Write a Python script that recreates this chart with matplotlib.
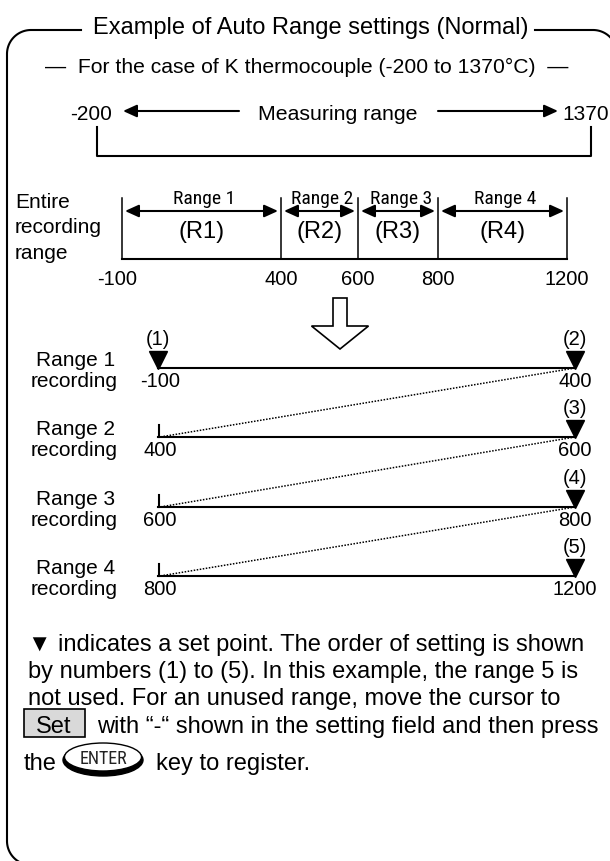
import numpy as np
import matplotlib.pyplot as plt
from matplotlib.patches import Ellipse, Rectangle, FancyArrow

# values shown in the diagram
meas_min, meas_max = -200, 1370
bounds = [-100, 400, 600, 800, 1200]
range_names = ["Range 1", "Range 2", "Range 3", "Range 4"]
range_codes = ["(R1)", "(R2)", "(R3)", "(R4)"]
order_marks = ["(1)", "(2)", "(3)", "(4)", "(5)"]

# layout (pixel positions of the schematic)
bar_x = [122, 281, 358, 438, 567]
row_y = [369, 438, 508, 577]
x0, x1 = 158, 575

plt.rcParams['font.family'] = ['Liberation Sans', 'DejaVu Sans']
fig = plt.figure(figsize=(6.10, 8.62), dpi=100)
ax = fig.add_axes([0, 0, 1, 1])
ax.set_xlim(0, 610)
ax.set_ylim(862, 0)
ax.axis('off')

lw = 1.5
narrow = ['Liberation Sans Narrow', 'Roboto Condensed', 'Liberation Sans']
fs = 15

# outer rounded frame; right and bottom edges lie outside the picture
r = 24
t = np.linspace(0, np.pi / 2, 40)
tl_x = 7 + r - r * np.sin(t)
tl_y = 31 + r - r * np.cos(t)
bl_x = 7 + r - r * np.cos(t)
bl_y = 866 - r + r * np.sin(t)
ax.plot(np.concatenate([[81], tl_x, bl_x]), np.concatenate([[31], tl_y, bl_y]),
        color='black', lw=lw)
tr_x = 593 + r * np.sin(t)
tr_y = 31 + r - r * np.cos(t)
ax.plot(np.concatenate([[535], tr_x]), np.concatenate([[31], tr_y]), color='black', lw=lw)

ax.text(311, 34, "Example of Auto Range settings (Normal)", fontsize=17,
        ha='center', va='baseline')
ax.text(307, 73, "\u2014  For the case of K thermocouple (%d to %d\u00b0C)  \u2014" % (meas_min, meas_max),
        fontsize=15.2, ha='center', va='baseline')

# measuring range
ax.text(70, 120, str(meas_min), fontsize=fs, ha='left', va='baseline')
ax.text(609, 120, str(meas_max), fontsize=fs, ha='right', va='baseline')
ax.text(338, 120, "Measuring range", fontsize=15.3, ha='center', va='baseline')
arr = dict(arrowstyle='-|>,head_length=0.55,head_width=0.25', lw=lw, color='black',
           mutation_scale=15, shrinkA=0, shrinkB=0)
ax.annotate("", xy=(123, 112), xytext=(239, 112), arrowprops=arr)
ax.annotate("", xy=(558, 112), xytext=(438, 112), arrowprops=arr)
ax.plot([97, 97, 591, 591], [128, 157, 157, 128], color='black', lw=lw)

# entire recording range bar
for txt, yb in zip(["Entire", "recording", "range"], [208, 233.5, 259]):
    ax.text(15, yb, txt, fontsize=fs, ha='left', va='baseline')
for x in bar_x:
    ax.plot([x, x], [199, 260], color='black', lw=1.1)
ax.plot([bar_x[0], bar_x[-1]], [260, 260], color='black', lw=lw)
darr = dict(arrowstyle='<|-|>,head_length=0.55,head_width=0.25', lw=lw, color='black',
            mutation_scale=15, shrinkA=0, shrinkB=0)
for i in range(4):
    xa, xb = bar_x[i], bar_x[i + 1]
    ax.annotate("", xy=(xa + 3, 212), xytext=(xb - 3, 212), arrowprops=darr)
    ax.text((xa + xb) / 2 + 3, 199, range_names[i], fontsize=14, family=narrow,
            ha='center', va='center')
    ax.text((xa + xb) / 2, 232, range_codes[i], fontsize=17, ha='center', va='center')
for x, v in zip(bar_x, bounds):
    ax.text(x - (5 if v < 0 else 0), 285, str(v), fontsize=14.5, ha='center', va='baseline')

# hollow down arrow
ax.add_patch(FancyArrow(340, 299, 0, 51, width=14, head_width=57, head_length=23,
                        length_includes_head=True, fc='white', ec='black', lw=1.2))

# per-range recording rows
for i, y in enumerate(row_y):
    ax.text(76, y - 3, range_names[i], fontsize=fs, ha='center', va='baseline')
    ax.text(74, y + 18, "recording", fontsize=fs, ha='center', va='baseline')
    ax.plot([x0, x1], [y, y], color='black', lw=lw)
    ax.text(x0 + 2, y + 18, str(bounds[i]), fontsize=14.5, ha='center', va='baseline')
    ax.text(x1, y + 18, str(bounds[i + 1]), fontsize=14.5, ha='center', va='baseline')
    ax.plot([x1], [y - 8.5], marker='v', ms=12.5, color='black')
    ax.text(x1, y - 29, order_marks[i + 1], fontsize=14.5, ha='center', va='center')
    if i == 0:
        ax.plot([x0], [y - 8.5], marker='v', ms=12.5, color='black')
        ax.text(x0, y - 29, order_marks[0], fontsize=14.5, ha='center', va='center')
    else:
        ax.plot([x0 + 1, x0 + 1], [y - 12, y], color='black', lw=lw)
        ax.plot([x1, x0 + 2], [row_y[i - 1], y], color='black', lw=1.1, ls=(0, (1, 1)))

# explanatory text
para = ["\u25bc indicates a set point. The order of setting is shown",
        "by numbers (1) to (5). In this example, the range 5 is",
        "not used. For an unused range, move the cursor to"]
pfs = 17
for txt, yb in zip(para, [651, 678, 705]):
    ax.text(28, yb, txt, fontsize=pfs, ha='left', va='baseline')
ax.add_patch(Rectangle((24, 710), 61, 28, fc='#d9d9d9', ec='black', lw=1.2))
ax.text(54, 733, "Set", fontsize=pfs, ha='center', va='baseline')
ax.text(97, 733, "with \u201c-\u201c shown in the setting field and then press",
        fontsize=pfs, ha='left', va='baseline')
ax.text(24, 770, "the", fontsize=pfs, ha='left', va='baseline')
ax.add_patch(Ellipse((103, 761), 80, 32, fc='black', ec='black', lw=1))
ax.add_patch(Ellipse((103, 758), 77, 28, fc='white', ec='black', lw=1))
ax.text(103, 759, "ENTER", fontsize=13, family=narrow, color='#222222',
        ha='center', va='center')
ax.text(156, 770, "key to register.", fontsize=pfs, ha='left', va='baseline')

fig.savefig("out.png", dpi=100)
